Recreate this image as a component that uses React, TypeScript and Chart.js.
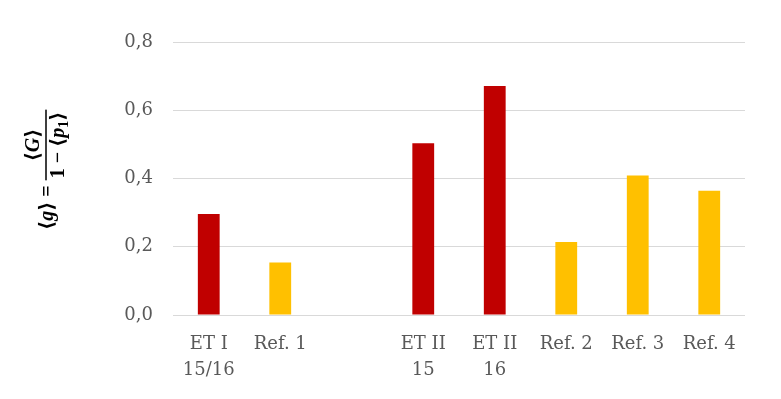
import React, { useEffect, useRef } from "react";
import { Chart, registerables } from "chart.js";

Chart.register(...registerables);

const categories: (string | string[])[] = [
  ["ET I", "15/16"],
  "Ref. 1",
  "",
  ["ET II", "15"],
  ["ET II", "16"],
  "Ref. 2",
  "Ref. 3",
  "Ref. 4",
];
const values: (number | null)[] = [0.296, 0.154, null, 0.503, 0.671, 0.214, 0.409, 0.364];
const groups = ["ET", "Ref", "", "ET", "ET", "Ref", "Ref", "Ref"];
const yMin = 0;
const yMax = 0.8;
const yStep = 0.2;

const groupColors: Record<string, string> = { ET: "#C00000", Ref: "#FFC000", "": "#FFFFFF" };

type Run = { t: string; it?: boolean; sub?: boolean };

const FAMILY = "'Liberation Serif', 'DejaVu Serif', serif";

function runsWidth(ctx: CanvasRenderingContext2D, runs: Run[], size: number) {
  let w = 0;
  for (const r of runs) {
    const s = r.sub ? size * 0.7 : size;
    ctx.font = `${r.it ? "italic " : ""}bold ${s}px ${FAMILY}`;
    w += ctx.measureText(r.t).width;
  }
  return w;
}

function drawRuns(ctx: CanvasRenderingContext2D, runs: Run[], startU: number, baseV: number, size: number) {
  let u = startU;
  for (const r of runs) {
    const s = r.sub ? size * 0.7 : size;
    ctx.font = `${r.it ? "italic " : ""}bold ${s}px ${FAMILY}`;
    ctx.fillText(r.t, u, baseV + (r.sub ? size * 0.22 : 0));
    u += ctx.measureText(r.t).width;
  }
}

const yTitlePlugin = {
  id: "yTitleFormula",
  afterDraw(chart: any) {
    const ctx: CanvasRenderingContext2D = chart.ctx;
    const size = 20;
    ctx.save();
    ctx.translate(50, 172);
    ctx.rotate(-Math.PI / 2);
    ctx.fillStyle = "#000000";
    ctx.textBaseline = "alphabetic";
    ctx.textAlign = "left";
    const main: Run[] = [{ t: "⟨" }, { t: "g", it: true }, { t: "⟩" }, { t: " = " }];
    const num: Run[] = [{ t: "⟨" }, { t: "G", it: true }, { t: "⟩" }];
    const den: Run[] = [{ t: "1 − ⟨" }, { t: "p", it: true }, { t: "1", sub: true }, { t: "⟩" }];
    const mainW = runsWidth(ctx, main, size);
    const numW = runsWidth(ctx, num, size);
    const denW = runsWidth(ctx, den, size);
    const fracW = Math.max(numW, denW) + 4;
    const start = -58;
    drawRuns(ctx, main, start, 3, size);
    const fx = start + mainW;
    ctx.fillRect(fx, -4.75, fracW, 1.5);
    drawRuns(ctx, num, fx + (fracW - numW) / 2, -11, size);
    drawRuns(ctx, den, fx + (fracW - denW) / 2, 14, size);
    ctx.restore();
  },
};

export default function App() {
  const ref = useRef<HTMLCanvasElement>(null);
  useEffect(() => {
    document.body.style.margin = "0";
    const canvas = ref.current!;
    const chart = new Chart(canvas, {
      type: "bar",
      data: {
        labels: categories,
        datasets: [
          {
            data: values,
            backgroundColor: groups.map((g) => groupColors[g]),
            barPercentage: 0.305,
            categoryPercentage: 1,
          },
        ],
      },
      options: {
        responsive: false,
        animation: false,
        layout: { padding: { top: 42, right: 36, bottom: 0, left: 0 } },
        plugins: {
          legend: { display: false },
          tooltip: { enabled: false },
        },
        scales: {
          x: {
            grid: { display: false, drawTicks: false },
            border: { display: false },
            ticks: {
              color: "#595959",
              font: { family: "'DejaVu Serif', serif", size: 18, lineHeight: 1.45 },
              padding: 16,
              maxRotation: 0,
              autoSkip: false,
            },
            afterFit(scale: any) {
              scale.height = 84;
            },
          },
          y: {
            min: yMin,
            max: yMax,
            grid: { color: "#D9D9D9", drawTicks: false, lineWidth: 1 },
            border: { display: false },
            ticks: {
              stepSize: yStep,
              color: "#595959",
              font: { family: "'DejaVu Serif', serif", size: 18 },
              padding: 20,
              callback: (v: any) => Number(v).toFixed(1).replace(".", ","),
            },
            afterFit(scale: any) {
              scale.width = 173;
            },
          },
        },
      },
      plugins: [yTitlePlugin],
    });
    return () => chart.destroy();
  }, []);
  return (
    <div style={{ position: "absolute", left: 0, top: 0, width: 781, height: 399, background: "#fff" }}>
      <canvas ref={ref} width={781} height={399} style={{ display: "block" }} />
    </div>
  );
}
